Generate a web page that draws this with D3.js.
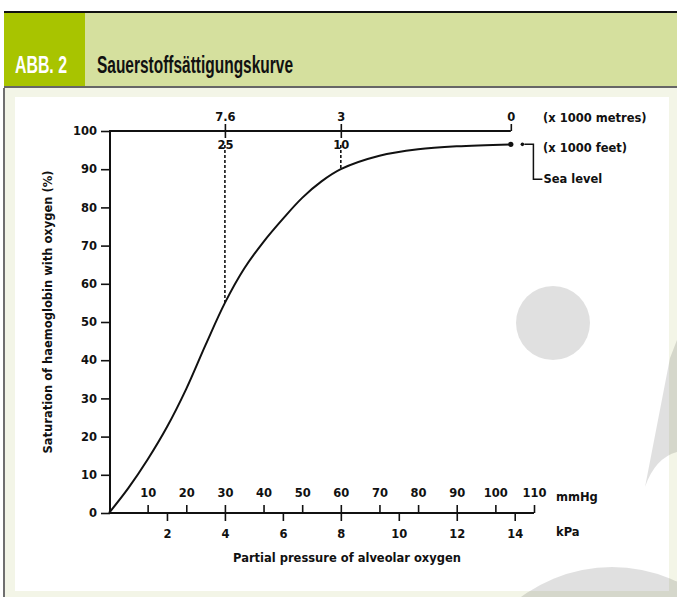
<!DOCTYPE html>
<html>
<head>
<meta charset="utf-8">
<script src="https://cdn.jsdelivr.net/npm/d3@7"></script>
<style>
  html, body { margin: 0; padding: 0; background: #fff; }
  svg { display: block; }
  .tick text { font-family: "DejaVu Sans", sans-serif; font-weight: bold; font-size: 11.5px; fill: #111; }
  .lbl { font-family: "DejaVu Sans", sans-serif; font-weight: bold; font-size: 11.5px; fill: #111; }
</style>
</head>
<body>
<div id="chart"></div>
<script>
// Daten: Sauerstoffbindungskurve (pO2 in mmHg, Sättigung in %)
const pO2 = [0, 5, 10, 15, 20, 25, 30, 35, 40, 45, 50, 55, 60, 70, 80, 90, 104];
const saturation = [0, 6.5, 14, 22.5, 32.5, 44, 55, 64, 71, 77, 82.5, 86.8, 90, 93.5, 95.2, 96, 96.5];

// Achsenbeschriftungen
const mmHgTicks = [10, 20, 30, 40, 50, 60, 70, 80, 90, 100, 110];
const kPaTicks = [2, 4, 6, 8, 10, 12, 14];
const yTicks = [0, 10, 20, 30, 40, 50, 60, 70, 80, 90, 100];

// Höhenachse oben (Position in mmHg)
const altitudePos = [30, 60, 104];
const altitudeMetres = ['7.6', '3', '0'];
const altitudeFeetPos = [30, 60];
const altitudeFeet = ['25', '10'];
const seaLevelDots = [104, 107];

const width = 677;
const height = 597;
const MMHG_PER_KPA = 7.50062;

const svg = d3.select('#chart').append('svg')
    .attr('width', width)
    .attr('height', height);

// Hintergrund: Kopfzeile und Rahmen
svg.append('rect').attr('x', 4).attr('y', 88).attr('width', width - 4).attr('height', height - 88).attr('fill', '#f3f5e7');
svg.append('rect').attr('x', 15).attr('y', 97).attr('width', 654).attr('height', 494).attr('fill', '#fff');
svg.append('rect').attr('x', 3).attr('y', 88).attr('width', 2).attr('height', height - 88).attr('fill', '#6f6f6f');
svg.append('rect').attr('x', 4).attr('y', 11).attr('width', width - 4).attr('height', 2).attr('fill', '#111');
svg.append('rect').attr('x', 4).attr('y', 13).attr('width', width - 4).attr('height', 74).attr('fill', '#d5e09e');
svg.append('rect').attr('x', 4).attr('y', 13).attr('width', 81).attr('height', 74).attr('fill', '#a8c400');
svg.append('rect').attr('x', 4).attr('y', 86).attr('width', width - 4).attr('height', 2).attr('fill', '#666');

svg.append('text')
    .attr('x', 15).attr('y', 73)
    .attr('textLength', 52).attr('lengthAdjust', 'spacingAndGlyphs')
    .attr('font-family', '"Liberation Sans Narrow", "Liberation Sans", sans-serif')
    .attr('font-weight', 'bold').attr('font-size', 24)
    .attr('fill', '#fff')
    .text('ABB. 2');
svg.append('text')
    .attr('x', 97).attr('y', 73)
    .attr('textLength', 196).attr('lengthAdjust', 'spacingAndGlyphs')
    .attr('font-family', '"Liberation Sans Narrow", "Liberation Sans", sans-serif')
    .attr('font-weight', 'bold').attr('font-size', 24)
    .attr('fill', '#111')
    .text('Sauerstoffsättigungskurve');

// Dekorative graue Formen
const deco = svg.append('g').attr('fill', '#000').attr('fill-opacity', 0.12);
deco.append('circle').attr('cx', 553).attr('cy', 323).attr('r', 37);
deco.append('path').attr('d', 'M645,487 L670,358 L677,340 L677,452 Q655,458 645,487 Z');
deco.append('circle').attr('cx', 612).attr('cy', 720).attr('r', 153);

// Skalen
const x = d3.scaleLinear().domain([0, 110]).range([109, 534]);
const xKpa = d3.scaleLinear().domain([0, 110 / MMHG_PER_KPA]).range([109, 534]);
const y = d3.scaleLinear().domain([0, 100]).range([513, 131]);

const g = svg.append('g');

// Y-Achse
g.append('g')
    .attr('transform', `translate(${x(0) + 1},0)`)
    .call(d3.axisLeft(y).tickValues(yTicks).tickSize(9).tickPadding(4))
    .call(a => a.select('.domain').remove())
    .call(a => a.selectAll('line').attr('stroke', '#111').attr('stroke-width', 1.6));
g.append('line')
    .attr('x1', x(0) + 1).attr('x2', x(0) + 1)
    .attr('y1', y(100)).attr('y2', y(0))
    .attr('stroke', '#111').attr('stroke-width', 2);

// X-Achse unten: mmHg (oben) und kPa (unten)
g.append('line')
    .attr('x1', x(0)).attr('x2', x(110))
    .attr('y1', y(0)).attr('y2', y(0))
    .attr('stroke', '#111').attr('stroke-width', 2);
g.append('g')
    .attr('transform', `translate(0,${y(0)})`)
    .call(d3.axisTop(x).tickValues(mmHgTicks).tickSize(8).tickPadding(8))
    .call(a => a.select('.domain').remove())
    .call(a => a.selectAll('line').attr('stroke', '#111').attr('stroke-width', 1.6));
g.append('g')
    .attr('transform', `translate(0,${y(0)})`)
    .call(d3.axisBottom(xKpa).tickValues(kPaTicks).tickSize(8).tickPadding(9))
    .call(a => a.select('.domain').remove())
    .call(a => a.selectAll('line').attr('stroke', '#111').attr('stroke-width', 1.6));

g.append('text').attr('class', 'lbl').attr('x', 556).attr('y', y(0) - 16).attr('dy', '0.32em').text('mmHg');
g.append('text').attr('class', 'lbl').attr('x', 556).attr('y', y(0) + 19).attr('dy', '0.32em').text('kPa');
g.append('text').attr('class', 'lbl')
    .attr('x', 347).attr('y', 558).attr('dy', '0.32em')
    .attr('text-anchor', 'middle')
    .text('Partial pressure of alveolar oxygen');
g.append('text').attr('class', 'lbl')
    .attr('transform', 'translate(48,312) rotate(-90)')
    .attr('text-anchor', 'middle').attr('dy', '0.32em')
    .text('Saturation of haemoglobin with oxygen (%)');

// Höhenachse oben
g.append('line')
    .attr('x1', x(0)).attr('x2', x(altitudePos[2]))
    .attr('y1', y(100)).attr('y2', y(100))
    .attr('stroke', '#111').attr('stroke-width', 2);
g.append('g')
    .attr('transform', `translate(0,${y(100)})`)
    .call(d3.axisTop(x).tickValues(altitudePos).tickSize(7).tickPadding(3)
        .tickFormat((d, i) => altitudeMetres[i]))
    .call(a => a.select('.domain').remove())
    .call(a => a.selectAll('line').attr('stroke', '#111').attr('stroke-width', 1.6));
g.append('g')
    .attr('transform', `translate(0,${y(100)})`)
    .call(d3.axisBottom(x).tickValues(altitudeFeetPos).tickSize(7).tickPadding(3)
        .tickFormat((d, i) => altitudeFeet[i]))
    .call(a => a.select('.domain').remove())
    .call(a => a.selectAll('line').attr('stroke', '#111').attr('stroke-width', 1.6));

g.append('text').attr('class', 'lbl').attr('x', 543).attr('y', y(100) - 13).attr('dy', '0.32em').text('(x 1000 metres)');
g.append('text').attr('class', 'lbl').attr('x', 543).attr('y', y(100) + 17).attr('dy', '0.32em').text('(x 1000 feet)');

// Gestrichelte Linien von der Höhenachse zur Kurve
g.append('g').selectAll('line')
    .data(altitudeFeetPos)
    .enter().append('line')
    .attr('x1', d => x(d)).attr('x2', d => x(d))
    .attr('y1', y(100) + 14)
    .attr('y2', d => y(saturation[pO2.indexOf(d)]))
    .attr('stroke', '#111').attr('stroke-width', 1.6)
    .attr('stroke-dasharray', '3,2');

// Kurve
const line = d3.line()
    .x((d, i) => x(pO2[i]))
    .y(d => y(d))
    .curve(d3.curveCatmullRom.alpha(0.5));
g.append('path')
    .datum(saturation)
    .attr('fill', 'none')
    .attr('stroke', '#111')
    .attr('stroke-width', 2)
    .attr('d', line);

// Meereshöhe: Punkte und Klammer
const seaSat = saturation[saturation.length - 1];
g.append('g').selectAll('circle')
    .data(seaLevelDots)
    .enter().append('circle')
    .attr('cx', d => x(d))
    .attr('cy', y(seaSat))
    .attr('r', (d, i) => i === 0 ? 2.6 : 1.8)
    .attr('fill', '#111');
g.append('path')
    .attr('d', `M${x(seaLevelDots[1]) + 2},${y(seaSat)} H${x(seaLevelDots[1]) + 11} V${y(seaSat) + 35} H${x(seaLevelDots[1]) + 20}`)
    .attr('fill', 'none').attr('stroke', '#111').attr('stroke-width', 1.5);
g.append('text').attr('class', 'lbl')
    .attr('x', x(seaLevelDots[1]) + 21).attr('y', y(seaSat) + 35).attr('dy', '0.32em')
    .text('Sea level');
</script>
</body>
</html>
